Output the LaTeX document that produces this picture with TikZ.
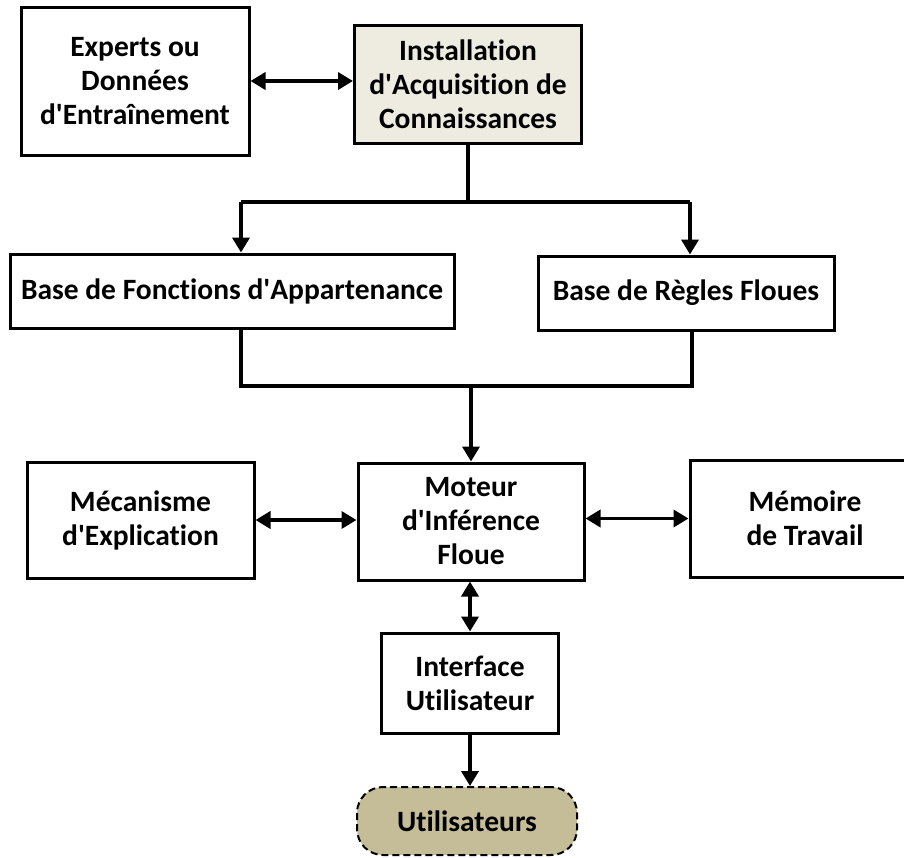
\documentclass[tikz,border=0pt]{standalone}
\usepackage{fontspec}
\setmainfont{Carlito}[Ligatures=NoCommon]
\usetikzlibrary{arrows.meta}
\definecolor{tanlight}{HTML}{EEECE1}
\definecolor{tandark}{HTML}{C4BD97}
\newcommand\ap{\textquotesingle}
\begin{document}
\begin{tikzpicture}[x=1pt,y=-1pt,
  box/.style={draw=black, line width=3pt, fill=white, inner sep=0pt, align=center,
    font=\bfseries\fontsize{29.5}{34}\selectfont},
  conn/.style={line width=3.6pt, draw=black},
  tip/.style={-{Triangle[length=15pt,width=17pt]}},
  dtip/.style={{Triangle[length=15pt,width=17pt]}-{Triangle[length=15pt,width=17pt]}},
]
\useasboundingbox (0,0) rectangle (904,857);
\node[box, minimum width=228pt, minimum height=148pt] (exp) at (135,81) {Experts ou\\Données\\d\ap Entraînement};
\node[box, fill=tanlight, minimum width=227pt, minimum height=118pt] (inst) at (468,84) {Installation\\d\ap Acquisition de\\Connaissances};
\node[box, minimum width=444pt, minimum height=74pt] (bf) at (232,291) {Base de Fonctions d\ap Appartenance};
\node[box, minimum width=296pt, minimum height=74pt] (br) at (686,293) {Base de Règles Floues};
\node[box, minimum width=226pt, minimum height=117pt] (mot) at (471,521.5) {Moteur\\d\ap Inférence\\Floue};
\node[box, minimum width=227pt, minimum height=116pt] (mec) at (140.5,520) {Mécanisme\\d\ap Explication};
\begin{scope}
\clip (0,0) rectangle (904,857);
\node[box, minimum width=230pt, minimum height=117pt] (mem) at (805,518.5) {Mémoire\\de Travail};
\end{scope}
\node[box, minimum width=177pt, minimum height=100pt] (int) at (470,683) {Interface\\Utilisateur};
\node[box, fill=tandark, line width=2pt, dash pattern=on 7pt off 4pt, rounded corners=26pt,
  minimum width=220pt, minimum height=68pt] (util) at (467,821) {Utilisateurs};

\draw[conn,dtip] (exp.east) -- (exp.east -| inst.west);
\coordinate (sl) at (241,202);
\coordinate (sr) at (690,202);
\draw[conn] (inst.south) -- (inst.south |- sl);
\draw[conn] (sl) -- (sr);
\draw[conn,tip] (sl) -- (sl |- bf.north);
\draw[conn,tip] (sr) -- (sr |- br.north);
\coordinate (ml) at (241,386);
\coordinate (mr) at (692,386);
\draw[conn] (ml |- bf.south) -- (ml) -- (mr) -- (mr |- br.south);
\draw[conn,tip] (mot.north |- ml) -- (mot.north);
\draw[conn,dtip] (mec.east) -- (mec.east -| mot.west);
\draw[conn,dtip] (mot.east |- mem.west) -- (mem.west);
\draw[conn,dtip] (mot.south -| int.north) -- (int.north);
\draw[conn,tip] (int.south) -- (int.south |- util.north);
\end{tikzpicture}
\end{document}
